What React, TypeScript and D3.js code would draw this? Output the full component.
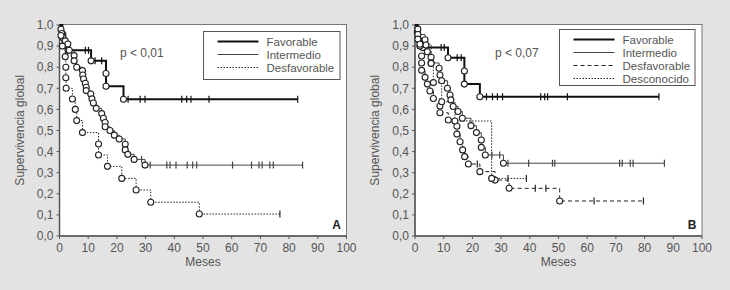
import React from 'react';
import * as d3 from 'd3';

// ---------- shared axis data ----------
const xTickValues = [0, 10, 20, 30, 40, 50, 60, 70, 80, 90, 100];
const yTickValues = [0, 0.1, 0.2, 0.3, 0.4, 0.5, 0.6, 0.7, 0.8, 0.9, 1.0];
const yTickLabels = ['0,0', '0,1', '0,2', '0,3', '0,4', '0,5', '0,6', '0,7', '0,8', '0,9', '1,0'];
const xAxisTitle = 'Meses';
const yAxisTitle = 'Supervivencia global';

// ---------- Panel A ----------
const aFavorableEvents: [number, number][] = [
  [1.0, 0.96], [2.0, 0.92], [3.0, 0.88], [11.0, 0.83], [16.2, 0.77], [16.2, 0.71], [22.3, 0.648],
];
const aFavorableCensored = [9.0, 10.1, 12.4, 14.7, 23.9, 28.1, 29.8, 42.6, 44.3, 45.8, 52.1, 83.0];

const aIntermedioEvents: [number, number][] = [
  [0.5, 0.98], [0.8, 0.96], [1.2, 0.94], [2.0, 0.925], [2.9, 0.91], [3.4, 0.88], [5.1, 0.855],
  [5.1, 0.83], [6.0, 0.8], [8.0, 0.784], [8.1, 0.763], [8.4, 0.744], [9.0, 0.724], [9.3, 0.705],
  [9.3, 0.689], [10.9, 0.673], [11.3, 0.65], [11.8, 0.63], [12.8, 0.605], [14.7, 0.58],
  [15.3, 0.558], [15.9, 0.538], [15.9, 0.518], [17.6, 0.5], [19.1, 0.478], [20.8, 0.46],
  [22.9, 0.435], [22.9, 0.408], [23.8, 0.387], [26.0, 0.363], [29.8, 0.336],
];
const aIntermedioCensored = [28.6, 31.6, 37.4, 38.5, 40.6, 44.5, 46.4, 47.8, 60.3, 66.9, 69.5, 70.6, 73.3, 74.5, 84.7];

const aDesfavorableEvents: [number, number][] = [
  [0.5, 0.95], [1.0, 0.9], [2.0, 0.85], [2.2, 0.8], [2.2, 0.75], [2.3, 0.7], [4.5, 0.649],
  [5.5, 0.6], [6.0, 0.547], [8.0, 0.49], [13.6, 0.436], [13.6, 0.384], [16.7, 0.33],
  [21.7, 0.273], [26.7, 0.218], [31.8, 0.16], [48.7, 0.104],
];
const aDesfavorableCensored = [76.8];

// ---------- Panel B ----------
const bFavorableEvents: [number, number][] = [
  [0.8, 0.964], [1.3, 0.929], [2.7, 0.893], [11.5, 0.845], [17.2, 0.782], [17.2, 0.72], [22.6, 0.66],
];
const bFavorableCensored = [9.1, 10.2, 14.7, 16.1, 24.9, 27.0, 28.7, 30.5, 43.8, 45.2, 46.2, 53.1, 85.0];

const bIntermedioEvents: [number, number][] = [
  [1.0, 0.98], [1.0, 0.955], [3.5, 0.93], [3.8, 0.905], [4.3, 0.873], [5.6, 0.847], [5.6, 0.82],
  [8.4, 0.795], [8.7, 0.763], [9.3, 0.736], [11.3, 0.7], [12.2, 0.668], [12.5, 0.645],
  [13.3, 0.614], [15.0, 0.59], [16.5, 0.558], [19.5, 0.523], [21.4, 0.49], [23.1, 0.455],
  [23.1, 0.42], [24.5, 0.384], [30.8, 0.345],
];
const bIntermedioCensored = [26.8, 29.5, 32.4, 39.6, 47.9, 48.7, 71.3, 72.2, 75.0, 76.0, 86.9];

const bDesfavorableEvents: [number, number][] = [
  [1.0, 0.933], [1.7, 0.9], [2.3, 0.853], [2.3, 0.82], [2.3, 0.785], [3.5, 0.752], [4.3, 0.72],
  [5.2, 0.687], [6.4, 0.652], [8.7, 0.616], [8.7, 0.584], [11.6, 0.55], [14.6, 0.52],
  [14.6, 0.483], [15.7, 0.447], [16.6, 0.408], [17.3, 0.376], [18.6, 0.341], [22.6, 0.305],
  [27.9, 0.265], [32.8, 0.226], [50.4, 0.166],
];
const bDesfavorableCensored = [21.7, 41.9, 45.6, 62.4, 79.6];

const bDesconocidoEvents: [number, number][] = [
  [1.7, 0.909], [5.6, 0.818], [6.4, 0.727], [9.3, 0.636], [13.9, 0.545], [26.7, 0.273],
];
const bDesconocidoCensored = [32.4, 38.8];

// ---------- rendering ----------
const W = 730;
const H = 290;
const FONT = '"Liberation Sans", Arial, sans-serif';
const TEXT = '#555';

type Curve = {
  name: string;
  events: [number, number][];
  censored: number[];
  width: number;
  dash?: string;
  color: string;
};

function survivalAt(events: [number, number][], t: number) {
  let s = 1;
  for (const [et, es] of events) if (et <= t) s = es;
  return s;
}

function Panel({ left, right, curves, pText, pX, letter, legend }: {
  left: number; right: number; curves: Curve[]; pText: string; pX: number; letter: string;
  legend: { x: number; y: number; w: number; h: number };
}) {
  const top = 24.5;
  const bottom = 236;
  const x = d3.scaleLinear().domain([0, 100]).range([left, right]);
  const y = d3.scaleLinear().domain([0, 1]).range([bottom, 25]);

  const pathFor = (c: Curve) => {
    const end = d3.max(c.censored) ?? d3.max(c.events, (e) => e[0])!;
    let d = `M${x(0)},${y(1)}`;
    for (const [t, s] of c.events) d += `H${x(t)}V${y(s)}`;
    d += `H${x(end)}`;
    return d;
  };

  return (
    <g>
      <rect x={left} y={top} width={right - left} height={bottom - top} fill="#fff" stroke="#777" strokeWidth={1} />
      {/* axes */}
      <line x1={left} x2={left} y1={top} y2={bottom} stroke="#555" strokeWidth={1.5} />
      <line x1={left} x2={right} y1={bottom} y2={bottom} stroke="#555" strokeWidth={1.5} />
      {yTickValues.map((v, i) => (
        <g key={'y' + i}>
          <line x1={left - 3} x2={left} y1={y(v)} y2={y(v)} stroke="#555" />
          <text x={left - 6} y={y(v)} dy="0.35em" textAnchor="end" fontSize={12} fill={TEXT} fontFamily={FONT}>
            {yTickLabels[i]}
          </text>
        </g>
      ))}
      {xTickValues.map((v) => (
        <g key={'x' + v}>
          <line x1={x(v)} x2={x(v)} y1={bottom} y2={bottom + 3} stroke="#555" />
          <text x={x(v)} y={bottom + 16} textAnchor="middle" fontSize={12} fill={TEXT} fontFamily={FONT}>
            {v}
          </text>
        </g>
      ))}
      <text x={(left + right) / 2} y={bottom + 30} textAnchor="middle" fontSize={12} fill={TEXT} fontFamily={FONT}>
        {xAxisTitle}
      </text>
      <text transform={`translate(${left - 36},${(top + bottom) / 2}) rotate(-90)`} textAnchor="middle"
        fontSize={12} fill={TEXT} fontFamily={FONT}>
        {yAxisTitle}
      </text>

      {/* curves */}
      {curves.slice().reverse().map((c) => (
        <g key={c.name}>
          <path d={pathFor(c)} fill="none" stroke={c.color} strokeWidth={c.width} strokeDasharray={c.dash} />
          {c.censored.map((t, i) => {
            const s = survivalAt(c.events, t);
            return <line key={i} x1={x(t)} x2={x(t)} y1={y(s) - 3.5} y2={y(s) + 3.5} stroke={c.color} strokeWidth={1.2} />;
          })}
        </g>
      ))}
      {curves.map((c) => (
        <g key={c.name + 'pts'}>
          {c.events.map(([t, s], i) => (
            <circle key={i} cx={x(t)} cy={y(s)} r={3} fill="#fff" stroke="#222" strokeWidth={1.1} />
          ))}
        </g>
      ))}

      {/* legend */}
      <rect x={legend.x} y={legend.y} width={legend.w} height={legend.h} fill="#fff" stroke="#555" strokeWidth={1} />
      {curves.map((c, i) => {
        const ly = legend.y + 10 + i * 13;
        return (
          <g key={c.name + 'leg'}>
            <line x1={legend.x + 14} x2={legend.x + 55} y1={ly} y2={ly} stroke={c.color} strokeWidth={c.width} strokeDasharray={c.dash} />
            <text x={legend.x + 63} y={ly} dy="0.35em" fontSize={11.5} fill={TEXT} fontFamily={FONT}>{c.name}</text>
          </g>
        );
      })}

      <text x={pX} y={57} fontSize={12} fill={TEXT} fontFamily={FONT}>{pText}</text>
      <text x={right - 10} y={229} textAnchor="middle" fontSize={12} fontWeight="bold" fill="#222" fontFamily={FONT}>{letter}</text>
    </g>
  );
}

export default function App() {
  const curvesA: Curve[] = [
    { name: 'Favorable', events: aFavorableEvents, censored: aFavorableCensored, width: 2, color: '#111' },
    { name: 'Intermedio', events: aIntermedioEvents, censored: aIntermedioCensored, width: 1, color: '#444' },
    { name: 'Desfavorable', events: aDesfavorableEvents, censored: aDesfavorableCensored, width: 1, dash: '1.5,1.5', color: '#222' },
  ];
  const curvesB: Curve[] = [
    { name: 'Favorable', events: bFavorableEvents, censored: bFavorableCensored, width: 2, color: '#111' },
    { name: 'Intermedio', events: bIntermedioEvents, censored: bIntermedioCensored, width: 1, color: '#444' },
    { name: 'Desfavorable', events: bDesfavorableEvents, censored: bDesfavorableCensored, width: 1, dash: '4,3', color: '#222' },
    { name: 'Desconocido', events: bDesconocidoEvents, censored: bDesconocidoCensored, width: 1, dash: '1.5,1.5', color: '#222' },
  ];
  return (
    <svg width={W} height={H} style={{ position: 'absolute', left: 0, top: 0, background: '#e3e3e3' }}>
      <rect x={0} y={0} width={W} height={H} fill="#e3e3e3" />
      <Panel left={59.5} right={346.5} curves={curvesA} pText="p < 0,01" pX={120} letter="A"
        legend={{ x: 203.5, y: 31.5, w: 136.5, h: 48 }} />
      <Panel left={415} right={702} curves={curvesB} pText="p < 0,07" pX={495} letter="B"
        legend={{ x: 559.5, y: 29.5, w: 135.5, h: 56 }} />
    </svg>
  );
}
